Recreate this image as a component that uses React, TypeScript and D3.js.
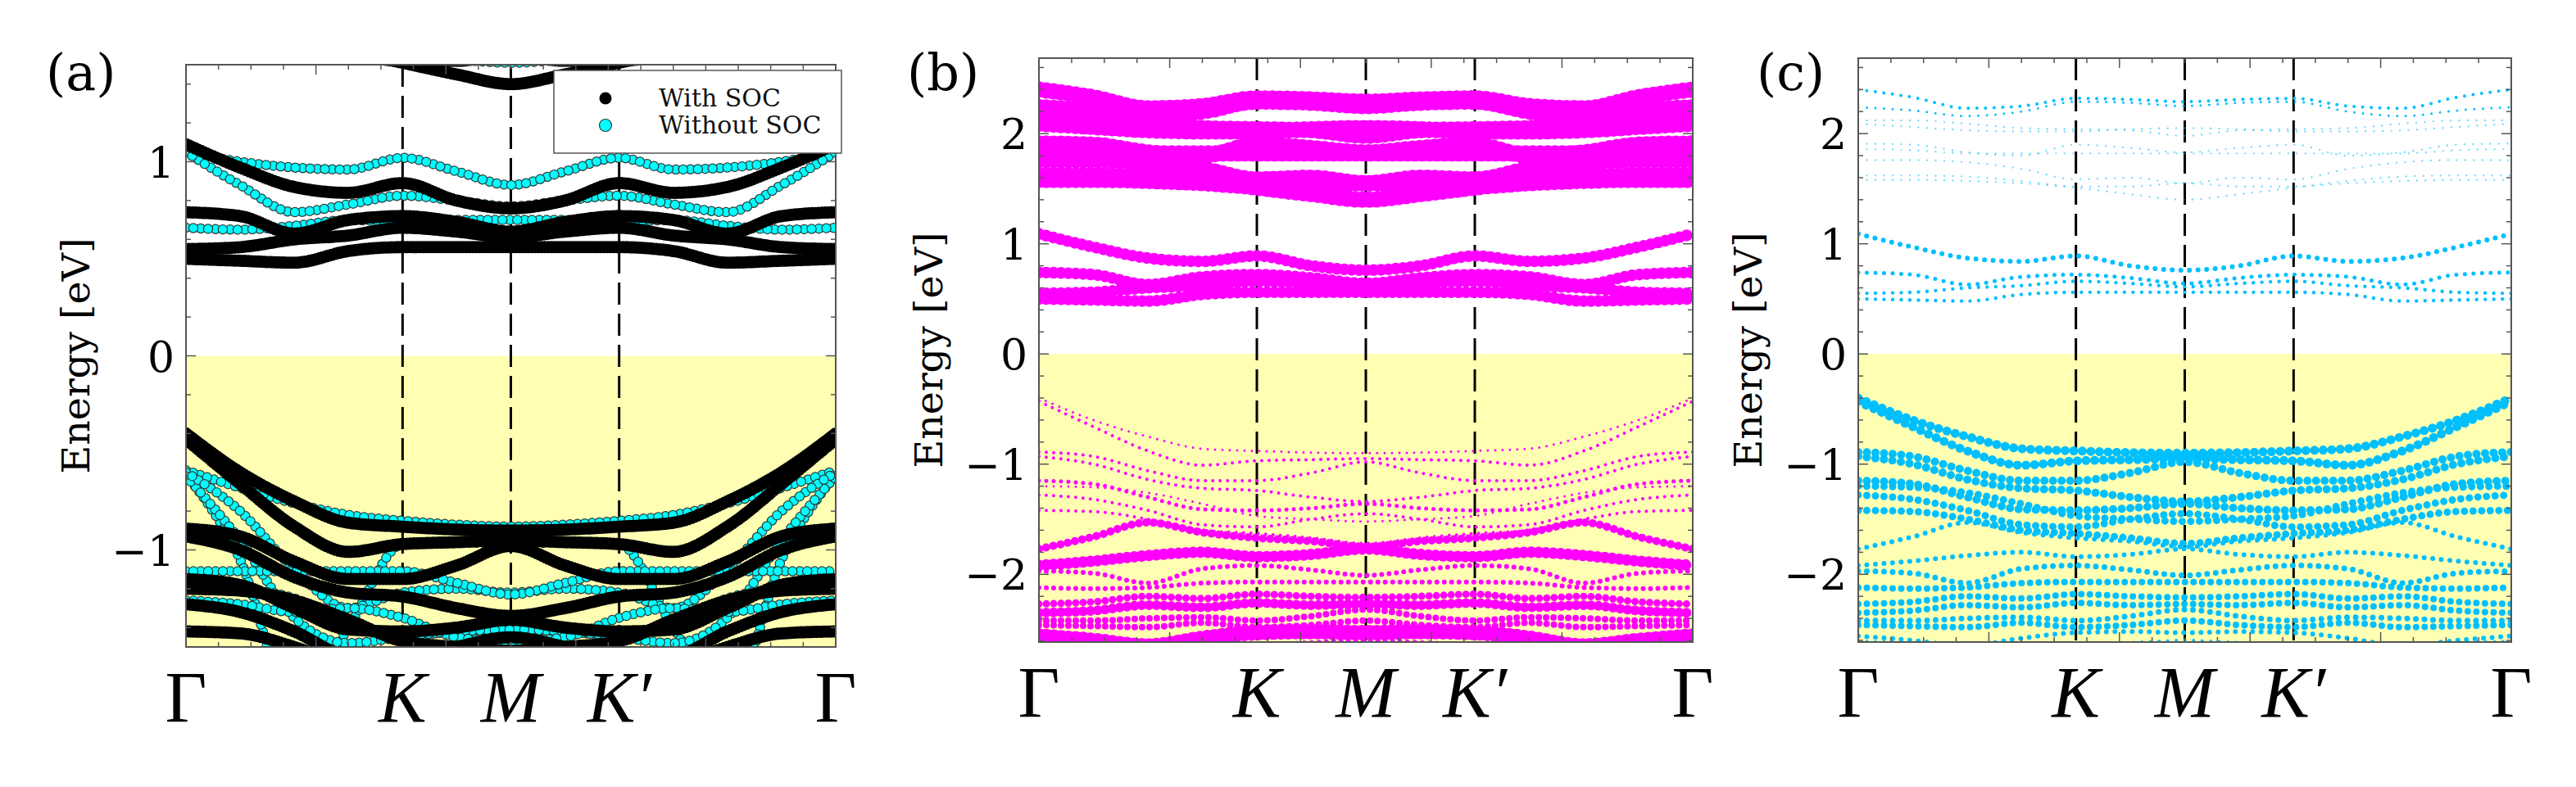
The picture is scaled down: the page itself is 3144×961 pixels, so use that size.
import * as d3 from "d3";
import type { ReactNode } from "react";

// k-path Γ–K–M–K′–Γ, sampled in fractions of the full path length
const kPath = [0, 0.0833, 0.1667, 0.25, 0.3333, 0.4167, 0.5, 0.5833, 0.6667, 0.75, 0.8333, 0.9167, 1];
const kNodes = [0, 1 / 3, 1 / 2, 2 / 3, 1];
const kNodeLabels = ["Γ", "K", "M", "K′", "Γ"];

// bands with spin-orbit coupling, conduction side (eV)
const socConduction = [
  [2.40, 2.33, 2.23, 2.25, 2.32, 2.31, 2.29, 2.31, 2.32, 2.25, 2.23, 2.33, 2.40],
  [2.24, 2.21, 2.16, 2.20, 2.29, 2.28, 2.25, 2.28, 2.29, 2.20, 2.16, 2.21, 2.24],
  [2.12, 2.12, 2.09, 2.05, 2.04, 2.03, 1.98, 2.03, 2.04, 2.05, 2.09, 2.12, 2.12],
  [2.09, 2.06, 2.03, 2.02, 2.02, 2.04, 2.05, 2.04, 2.02, 2.02, 2.03, 2.06, 2.09],
  [1.91, 1.90, 1.83, 1.80, 1.90, 1.87, 1.83, 1.87, 1.90, 1.80, 1.83, 1.90, 1.91],
  [1.86, 1.85, 1.82, 1.82, 1.82, 1.82, 1.82, 1.82, 1.82, 1.82, 1.82, 1.85, 1.86],
  [1.76, 1.76, 1.74, 1.68, 1.585, 1.60, 1.55, 1.60, 1.585, 1.68, 1.74, 1.76, 1.76],
  [1.62, 1.62, 1.61, 1.57, 1.51, 1.45, 1.40, 1.45, 1.51, 1.57, 1.61, 1.62, 1.62],
  [1.58, 1.58, 1.57, 1.55, 1.52, 1.52, 1.55, 1.52, 1.52, 1.55, 1.57, 1.58, 1.58],
  [1.09, 0.97, 0.87, 0.84, 0.89, 0.80, 0.76, 0.80, 0.89, 0.84, 0.87, 0.97, 1.09],
  [0.74, 0.72, 0.63, 0.70, 0.72, 0.69, 0.64, 0.69, 0.72, 0.70, 0.63, 0.72, 0.74],
  [0.55, 0.56, 0.60, 0.62, 0.66, 0.64, 0.61, 0.64, 0.66, 0.62, 0.60, 0.56, 0.55],
  [0.50, 0.49, 0.48, 0.54, 0.56, 0.56, 0.56, 0.56, 0.56, 0.54, 0.48, 0.49, 0.50],
];

// bands with spin-orbit coupling, valence side (eV)
const socValence = [
  [-0.40, -0.60, -0.75, -0.86, -0.88, -0.895, -0.90, -0.895, -0.88, -0.86, -0.75, -0.60, -0.40],
  [-0.43, -0.66, -0.88, -1.01, -0.97, -0.96, -0.95, -0.96, -0.97, -1.01, -0.88, -0.66, -0.43],
  [-0.89, -0.93, -1.06, -1.15, -1.15, -1.08, -0.98, -1.08, -1.15, -1.15, -1.06, -0.93, -0.89],
  [-0.93, -1.00, -1.14, -1.22, -1.24, -1.30, -1.34, -1.30, -1.24, -1.22, -1.14, -1.00, -0.93],
  [-1.15, -1.18, -1.30, -1.41, -1.42, -1.40, -1.36, -1.40, -1.42, -1.41, -1.30, -1.18, -1.15],
  [-1.20, -1.21, -1.26, -1.36, -1.47, -1.50, -1.52, -1.50, -1.47, -1.36, -1.26, -1.21, -1.20],
  [-1.28, -1.32, -1.42, -1.55, -1.57, -1.50, -1.45, -1.50, -1.57, -1.55, -1.42, -1.32, -1.28],
  [-1.42, -1.43, -1.50, -1.60, -1.63, -1.67, -1.72, -1.67, -1.63, -1.60, -1.50, -1.43, -1.42],
  [-1.77, -1.66, -1.53, -1.62, -1.67, -1.70, -1.75, -1.70, -1.67, -1.62, -1.53, -1.66, -1.77],
  [-1.92, -1.88, -1.83, -1.80, -1.84, -1.82, -1.77, -1.82, -1.84, -1.80, -1.83, -1.88, -1.92],
  [-1.97, -1.99, -2.08, -1.95, -1.92, -1.96, -2.01, -1.96, -1.92, -1.95, -2.08, -1.99, -1.97],
  [-2.12, -2.13, -2.12, -2.08, -2.07, -2.07, -2.07, -2.07, -2.07, -2.08, -2.12, -2.13, -2.12],
  [-2.27, -2.25, -2.20, -2.22, -2.18, -2.20, -2.21, -2.20, -2.18, -2.22, -2.20, -2.25, -2.27],
  [-2.35, -2.33, -2.28, -2.30, -2.26, -2.28, -2.27, -2.28, -2.26, -2.30, -2.28, -2.33, -2.35],
  [-2.42, -2.42, -2.40, -2.39, -2.42, -2.38, -2.32, -2.38, -2.42, -2.39, -2.40, -2.42, -2.42],
  [-2.46, -2.47, -2.48, -2.44, -2.48, -2.46, -2.42, -2.46, -2.48, -2.44, -2.48, -2.47, -2.46],
  [-2.56, -2.60, -2.65, -2.58, -2.53, -2.52, -2.53, -2.52, -2.53, -2.58, -2.65, -2.60, -2.56],
  [-2.61, -2.62, -2.64, -2.66, -2.64, -2.62, -2.60, -2.62, -2.64, -2.66, -2.64, -2.62, -2.61],
];

// bands without spin-orbit coupling (eV)
const noSocBands = [
  [1.80, 1.78, 1.72, 1.65, 1.58, 1.53, 1.51, 1.53, 1.58, 1.65, 1.72, 1.78, 1.80],
  [1.05, 1.00, 0.97, 0.96, 1.02, 0.95, 0.88, 0.95, 1.02, 0.96, 0.97, 1.00, 1.05],
  [1.05, 0.88, 0.74, 0.78, 0.825, 0.80, 0.77, 0.80, 0.825, 0.78, 0.74, 0.88, 1.05],
  [0.66, 0.65, 0.67, 0.70, 0.69, 0.70, 0.70, 0.70, 0.69, 0.70, 0.67, 0.65, 0.66],
  [-0.59, -0.68, -0.76, -0.82, -0.85, -0.87, -0.88, -0.87, -0.85, -0.82, -0.76, -0.68, -0.59],
  [-0.61, -1.05, -1.80, -1.40, -0.97, -0.96, -0.97, -0.96, -0.97, -1.40, -1.80, -1.05, -0.61],
  [-0.62, -0.95, -1.35, -1.48, -1.45, -1.42, -1.41, -1.42, -1.45, -1.48, -1.35, -0.95, -0.62],
  [-0.60, -0.80, -1.10, -1.30, -1.22, -1.20, -1.22, -1.20, -1.22, -1.30, -1.10, -0.80, -0.60],
  [-1.11, -1.11, -1.11, -1.11, -1.11, -1.17, -1.23, -1.17, -1.11, -1.11, -1.11, -1.11, -1.11],
  [-1.19, -1.20, -1.25, -1.38, -1.44, -1.42, -1.41, -1.42, -1.44, -1.38, -1.25, -1.20, -1.19],
  [-1.26, -1.28, -1.32, -1.30, -1.35, -1.45, -1.47, -1.45, -1.35, -1.30, -1.32, -1.28, -1.26],
];

// projected weights per band (conduction first, then valence)
const weightB = [
  1.0, 1.0, 1.0, 1.0, 1.0, 1.0, 1.0, 1.0, 1.0, 0.72, 0.72, 0.72, 0.72,
  0.15, 0.2, 0.2, 0.2, 0.25, 0.15, 0.2, 0.2, 0.5, 0.7, 0.3, 0.3, 0.45, 0.6, 0.4, 0.4, 0.95, 0.3,
];
const weightC = [
  0.2, 0.15, 0.12, 0.12, 0.12, 0.12, 0.12, 0.12, 0.12, 0.3, 0.25, 0.22, 0.22,
  0.55, 0.55, 0.5, 0.5, 0.5, 0.45, 0.45, 0.45, 0.3, 0.3, 0.35, 0.4, 0.4, 0.4, 0.35, 0.4, 0.3, 0.2,
];

const yTicksA = [-1, 0, 1];
const yTicksBC = [-2, -1, 0, 1, 2];
const legendLabels = ["With SOC", "Without SOC"];

const SERIF = "'DejaVu Serif', serif";
const MATH = "'Liberation Serif', 'Times New Roman', serif";
const AXIS = "#555";

const socBands = [...socConduction, ...socValence];
const markerSize = d3.scaleLinear().domain([0, 1]).range([0, 20]);

type Lin = d3.ScaleLinear<number, number>;

function bandPath(values: number[], x: Lin, y: Lin) {
  return (
    d3
      .line<number>()
      .x((_, i) => x(kPath[i]))
      .y((d) => y(d))
      .curve(d3.curveMonotoneX)(values) || ""
  );
}

function fmt(v: number) {
  return v < 0 ? `\u2212${-v}` : `${v}`;
}

function Panel(props: {
  id: string;
  left: number;
  top: number;
  width: number;
  height: number;
  yDomain: [number, number];
  yTicks: number[];
  tag: string;
  tagX: number;
  children: (x: Lin, y: Lin) => ReactNode;
}) {
  const { id, left, top, width, height, yDomain, yTicks, tag, tagX } = props;
  const right = left + width;
  const bottom = top + height;
  const x = d3.scaleLinear().domain([0, 1]).range([left, right]);
  const y = d3.scaleLinear().domain(yDomain).range([bottom, top]);

  const xMinor = d3.range(1, 20);
  const yMinor = d3
    .range(Math.ceil(yDomain[0] / 0.2 - 1e-6), Math.floor(yDomain[1] / 0.2 + 1e-6) + 1)
    .map((i) => i * 0.2);

  return (
    <g>
      <clipPath id={`clip-${id}`}>
        <rect x={left} y={top} width={width} height={height} />
      </clipPath>
      <rect x={left} y={y(0)} width={width} height={bottom - y(0)} fill="#ffffb3" />
      {kNodes.slice(1, 4).map((k) => (
        <line
          key={k}
          x1={x(k)}
          x2={x(k)}
          y1={top}
          y2={bottom}
          stroke="#000"
          strokeWidth={3}
          strokeDasharray="27 11"
        />
      ))}
      <g clipPath={`url(#clip-${id})`}>{props.children(x, y)}</g>
      <rect x={left} y={top} width={width} height={height} fill="none" stroke={AXIS} strokeWidth={2} />
      {xMinor.map((i) => {
        const len = i % 4 === 0 ? 12 : 6;
        const xp = x(i / 20);
        return (
          <g key={`xt${i}`} stroke={AXIS} strokeWidth={1.5}>
            <line x1={xp} x2={xp} y1={bottom} y2={bottom - len} />
            <line x1={xp} x2={xp} y1={top} y2={top + len} />
          </g>
        );
      })}
      {yMinor.map((v, i) => {
        const major = Math.abs(v - Math.round(v)) < 1e-6;
        const len = major ? 12 : 6;
        const yp = y(v);
        return (
          <g key={`yt${i}`} stroke={AXIS} strokeWidth={1.5}>
            <line x1={left} x2={left + len} y1={yp} y2={yp} />
            <line x1={right} x2={right - len} y1={yp} y2={yp} />
          </g>
        );
      })}
      {yTicks.map((v) => (
        <text
          key={`yl${v}`}
          x={left - 14}
          y={y(v) + 19}
          textAnchor="end"
          fontFamily={SERIF}
          fontSize={52}
          fill="#000"
        >
          {fmt(v)}
        </text>
      ))}
      <text
        transform={`translate(${left - 118},${top + height / 2}) rotate(-90)`}
        textAnchor="middle"
        fontFamily={SERIF}
        fontSize={47}
        textLength={288}
        lengthAdjust="spacingAndGlyphs"
        fill="#000"
      >
        Energy [eV]
      </text>
      {kNodes.map((k, i) => (
        <text
          key={`kl${i}`}
          x={x(k)}
          y={bottom + 91}
          textAnchor="middle"
          fontFamily={MATH}
          fontStyle={kNodeLabels[i] === "Γ" ? "normal" : "italic"}
          fontSize={88}
          fill="#000"
        >
          {kNodeLabels[i]}
        </text>
      ))}
      <text x={tagX} y={110} fontFamily={SERIF} fontSize={62} fill="#000">
        {tag}
      </text>
    </g>
  );
}

function Beads({ values, x, y, color, size, gap, opacity = 1 }: {
  values: number[];
  x: Lin;
  y: Lin;
  color: string;
  size: number;
  gap: number;
  opacity?: number;
}) {
  return (
    <path
      d={bandPath(values, x, y)}
      fill="none"
      stroke={color}
      strokeWidth={size}
      strokeLinecap="round"
      strokeDasharray={`0 ${gap}`}
      opacity={opacity}
    />
  );
}

// cyan circles with a dark rim, laid down in two interleaved passes
function RingBeads({ values, x, y }: { values: number[]; x: Lin; y: Lin }) {
  const d = bandPath(values, x, y);
  const step = 9;
  return (
    <g fill="none" strokeLinecap="round">
      {[0, step].map((off) => (
        <g key={off}>
          <path d={d} stroke="#2d3a3a" strokeWidth={12.5} strokeDasharray={`0 ${2 * step}`} strokeDashoffset={-off} />
          <path d={d} stroke="#00ffff" strokeWidth={10} strokeDasharray={`0 ${2 * step}`} strokeDashoffset={-off} />
        </g>
      ))}
    </g>
  );
}

export default function App() {
  return (
    <svg
      width={3144}
      height={961}
      style={{ position: "absolute", left: 0, top: 0, background: "#fff" }}
    >
      <rect width={3144} height={961} fill="#fff" />

      <Panel id="a" left={227} top={79} width={793} height={711} yDomain={[-1.5, 1.5]} yTicks={yTicksA} tag="(a)" tagX={56}>
        {(x, y) => (
          <g>
            {noSocBands.map((b, i) => (
              <RingBeads key={`n${i}`} values={b} x={x} y={y} />
            ))}
            {socBands.map((b, i) => (
              <Beads key={`s${i}`} values={b} x={x} y={y} color="#000" size={15} gap={4} />
            ))}
          </g>
        )}
      </Panel>

      {/* legend */}
      <g>
        <rect x={676} y={86} width={351} height={101} fill="#fff" stroke={AXIS} strokeWidth={1.5} />
        <circle cx={739} cy={120} r={7.5} fill="#000" />
        <circle cx={739} cy={153} r={7.5} fill="#00ffff" stroke="#2d3a3a" strokeWidth={1.2} />
        {legendLabels.map((t, i) => (
          <text key={t} x={804} y={130 + i * 33} fontFamily={SERIF} fontSize={30} fill="#111">
            {t}
          </text>
        ))}
      </g>

      <Panel id="b" left={1268} top={71} width={798} height={713} yDomain={[-2.615, 2.685]} yTicks={yTicksBC} tag="(b)" tagX={1107}>
        {(x, y) => (
          <g>
            {socBands.map((b, i) => (
              <Beads key={`b${i}`} values={b} x={x} y={y} color="#ff00ff" size={markerSize(weightB[i])} gap={9} />
            ))}
          </g>
        )}
      </Panel>

      <Panel id="c" left={2268} top={71} width={797} height={713} yDomain={[-2.615, 2.685]} yTicks={yTicksBC} tag="(c)" tagX={2144}>
        {(x, y) => (
          <g>
            {socBands.map((b, i) => {
              const s = markerSize(weightC[i]);
              return (
                <Beads key={`c${i}`} values={b} x={x} y={y} color="#00bfff" size={s} gap={10.5} opacity={s < 3 ? 0.55 : 1} />
              );
            })}
          </g>
        )}
      </Panel>
    </svg>
  );
}
